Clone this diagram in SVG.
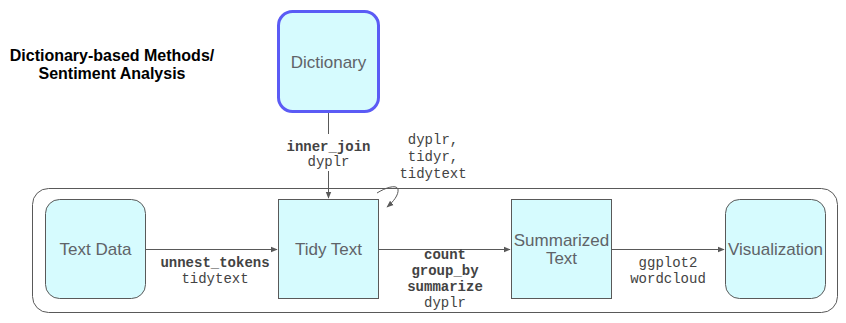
<svg xmlns="http://www.w3.org/2000/svg" width="846" height="323" viewBox="0 0 846 323">
  <defs>
    <marker id="arrow" viewBox="0 0 10 10" refX="9" refY="5" markerWidth="7" markerHeight="7" orient="auto" markerUnits="userSpaceOnUse">
      <path d="M0,1 L10,5 L0,9 Z" fill="#595959"/>
    </marker>
    <style>
      .node { fill: #d6fbfe; stroke: #595959; stroke-width: 1; }
      .dict { fill: #d6fbfe; stroke: #5b5bf5; stroke-width: 3; }
      .frame { fill: none; stroke: #595959; stroke-width: 1; }
      .label { font-family: "Liberation Sans", Arial, sans-serif; font-size: 17px; fill: #5f6368; text-anchor: middle; }
      .code { font-family: "Liberation Mono", "Courier New", monospace; font-size: 14px; fill: #434343; text-anchor: middle; }
      .codeb { font-family: "Liberation Mono", "Courier New", monospace; font-size: 14px; fill: #434343; font-weight: bold; text-anchor: middle; }
      .title { font-family: "Liberation Sans", Arial, sans-serif; font-size: 16px; font-weight: bold; fill: #000; text-anchor: middle; }
      .edge { fill: none; stroke: #595959; stroke-width: 1; }
    </style>
  </defs>
  <rect width="846" height="323" fill="#ffffff"/>

  <!-- heading -->
  <g id="title">
    <text class="title" x="112" y="61">Dictionary-based Methods/</text>
    <text class="title" x="112" y="79">Sentiment Analysis</text>
  </g>

  <!-- pipeline frame -->
  <rect class="frame" x="32.5" y="188.5" width="805" height="124" rx="16"/>

  <g id="dictionary">
    <rect class="dict" x="278.5" y="11.5" width="100" height="100" rx="14"/>
    <text class="label" x="328.5" y="68">Dictionary</text>
  </g>

  <g id="text-data">
    <rect class="node" x="45.5" y="199.5" width="100" height="99" rx="14"/>
    <text class="label" x="95.5" y="255">Text Data</text>
  </g>

  <g id="tidy-text">
    <rect class="node" x="278.5" y="199.5" width="100" height="99"/>
    <text class="label" x="328.5" y="255">Tidy Text</text>
  </g>

  <g id="summarized-text">
    <rect class="node" x="511.5" y="199.5" width="100" height="99"/>
    <text class="label" x="561.5" y="246">Summarized</text>
    <text class="label" x="561.5" y="264">Text</text>
  </g>

  <g id="visualization">
    <rect class="node" x="725.5" y="199.5" width="100" height="99" rx="14"/>
    <text class="label" x="775.5" y="255">Visualization</text>
  </g>

  <g id="connectors">
    <!-- dictionary to tidy text -->
    <line class="edge" x1="328.5" y1="113" x2="328.5" y2="134"/>
    <line class="edge" x1="328.5" y1="171" x2="328.5" y2="198" marker-end="url(#arrow)"/>
    <text class="codeb" x="328.5" y="151">inner_join</text>
    <text class="code" x="328.5" y="166">dyplr</text>

    <!-- self loop on tidy text -->
    <path class="edge" d="M377,193 C385,188 396,184 398,189 C399,195 393,202 387,207" marker-end="url(#arrow)"/>
    <text class="code" x="433" y="144">dyplr,</text>
    <text class="code" x="433" y="161">tidyr,</text>
    <text class="code" x="433" y="178">tidytext</text>

    <!-- text data to tidy text -->
    <line class="edge" x1="146" y1="249.5" x2="277" y2="249.5" marker-end="url(#arrow)"/>
    <text class="codeb" x="215" y="267">unnest_tokens</text>
    <text class="code" x="215" y="283">tidytext</text>

    <!-- tidy text to summarized text -->
    <line class="edge" x1="379" y1="249.5" x2="510" y2="249.5" marker-end="url(#arrow)"/>
    <text class="codeb" x="445" y="259">count</text>
    <text class="codeb" x="445" y="275">group_by</text>
    <text class="codeb" x="445" y="291">summarize</text>
    <text class="code" x="445" y="307">dyplr</text>

    <!-- summarized text to visualization -->
    <line class="edge" x1="612" y1="249.5" x2="724" y2="249.5" marker-end="url(#arrow)"/>
    <text class="code" x="668" y="267">ggplot2</text>
    <text class="code" x="668" y="283">wordcloud</text>
  </g>
</svg>
